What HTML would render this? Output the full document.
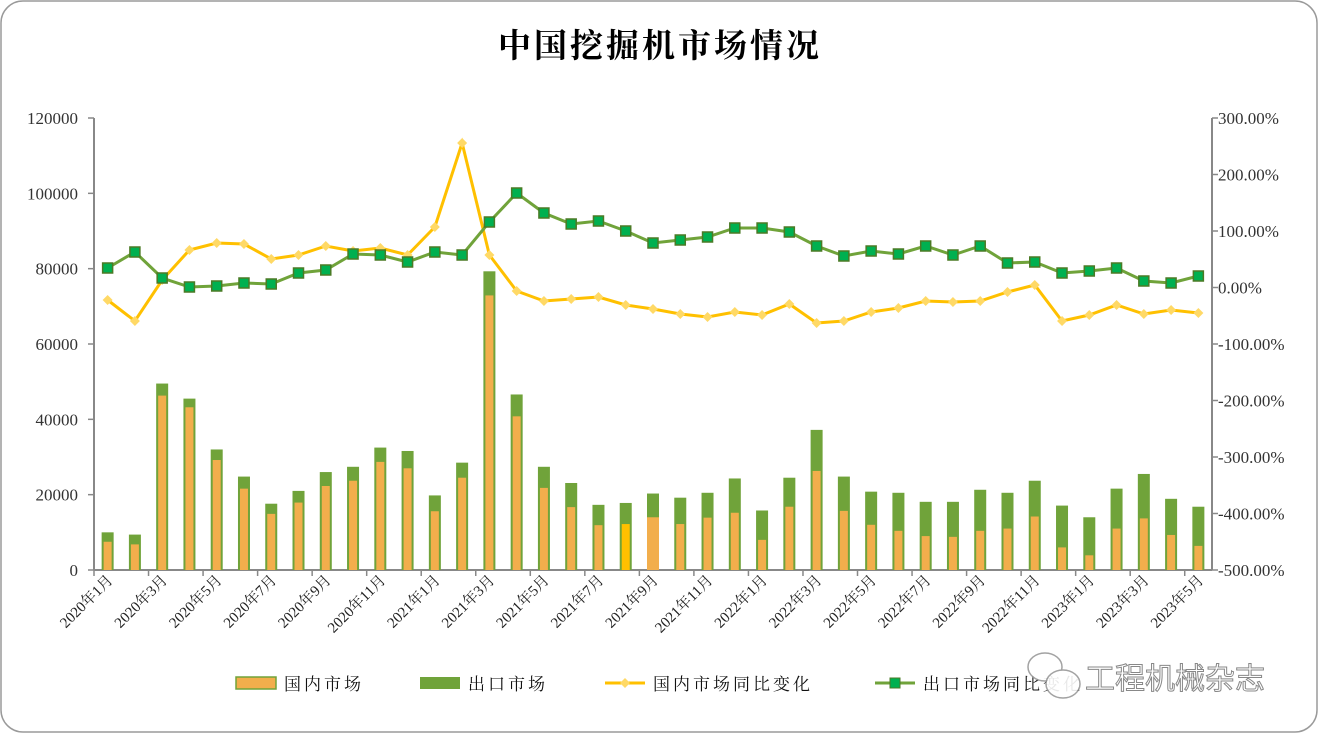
<!DOCTYPE html>
<html><head><meta charset="utf-8"><style>
body{margin:0;background:#fff;}
#c{position:relative;width:1318px;height:733px;overflow:hidden;}
</style></head><body><div id="c"><svg id="s" width="1318" height="733" xmlns="http://www.w3.org/2000/svg"></svg></div>
<script>
const tot=[10000,9400,49500,45500,32000,24800,17600,21000,26000,27400,32500,31600,19800,28500,79300,46600,27400,23100,17300,17800,20300,19200,20500,24300,15800,24500,37200,24800,20800,20500,18100,18100,21300,20500,23700,17100,14000,21600,25500,18900,16800];
const dom=[7500,6800,46300,43200,29200,21600,14900,17900,22300,23700,28700,27000,15600,24500,72900,40800,21800,16700,11900,12200,14000,12200,13900,15200,8000,16800,26300,15700,12000,10400,9000,8800,10400,11000,14200,6000,3900,11000,13700,9300,6400];
const dy=[300,321,280,250,243,244,259,255,246,251,248,255,227,143,255,291,301,299,297,305,309,314,317,312,315,304,323,321,312,308,301,302,301,292,285,321,315,305,314,310,313];
const ey=[268,252,278,287,286,283,284,273,270,254,255,262,252,255,222,193,213,224,221,231,243,240,237,228,228,232,246,256,251,254,246,255,246,263,262,273,271,268,281,283,276];
const L=94,R=1212,T=118,B=570,n=41,w=(R-L)/n;
const Y=v=>B-v/120000*(B-T);
const F='font-family="Liberation Serif,Noto Serif CJK SC,serif"';
let h='';
h+='<rect x="1" y="1" width="1316" height="731" rx="22" fill="#fff" stroke="#9a9a9a" stroke-width="1.5"/>';
h+=`<text x="660" y="57" text-anchor="middle" font-family="Noto Serif CJK SC,serif" font-size="33" font-weight="bold" fill="#000" letter-spacing="3">中国挖掘机市场情况</text>`;
for(let i=0;i<=6;i++){let y=B-i*(B-T)/6;
h+=`<line x1="88" x2="${L}" y1="${y}" y2="${y}" stroke="#888" stroke-width="1.5"/>`;
h+=`<text x="78" y="${y+6}" text-anchor="end" ${F} font-size="17" fill="#333">${i*20000}</text>`;}
for(let i=0;i<=8;i++){let y=T+i*(B-T)/8;h+=`<text x="1218" y="${y+6}" ${F} font-size="17" fill="#333">${(300-i*100).toFixed(2)}%</text><line x1="${R}" x2="${R+6}" y1="${y}" y2="${y}" stroke="#888" stroke-width="1.5"/>`;}
h+=`<line x1="${L}" x2="${L}" y1="${T}" y2="${B}" stroke="#888" stroke-width="2"/><line x1="${R}" x2="${R}" y1="${T}" y2="${B}" stroke="#888" stroke-width="2"/><line x1="${L}" x2="${R}" y1="${B}" y2="${B}" stroke="#888" stroke-width="2"/>`;
for(let i=0;i<n;i++){const cx=L+w*(i+0.5);
if(i%2==0){h+=`<line x1="${L+w*i}" x2="${L+w*i}" y1="${B}" y2="${B+6}" stroke="#888" stroke-width="1.5"/>`;
let yr=2020+Math.floor(i/12),m=i%12+1;
h+=`<text transform="translate(${cx+6},${B+11}) rotate(-45)" text-anchor="end" ${F} font-size="15" fill="#222">${yr}年${m}月</text>`;}
h+=`<rect x="${cx-6}" y="${Y(tot[i])}" width="12" height="${B-Y(tot[i])}" fill="#70A33A"/>`;
let dc=i==19?'#FFC000':'#F2AE4C';
if(i==20)h+=`<rect x="${cx-6}" y="${Y(dom[i])}" width="12" height="${B-Y(dom[i])}" fill="${dc}"/>`;
else h+=`<rect x="${cx-4}" y="${Y(dom[i])}" width="8" height="${B-Y(dom[i])}" fill="${dc}"/>`;}
let p1=dy.map((y,i)=>`${L+w*(i+0.5)},${y}`).join(' '),p2=ey.map((y,i)=>`${L+w*(i+0.5)},${y}`).join(' ');
h+=`<polyline points="${p1}" fill="none" stroke="#FFC000" stroke-width="3"/>`;
dy.forEach((y,i)=>{let x=L+w*(i+0.5);h+=`<path d="M${x-5} ${y}L${x} ${y-5}L${x+5} ${y}L${x} ${y+5}Z" fill="#FFD966"/>`});
h+=`<polyline points="${p2}" fill="none" stroke="#70A33A" stroke-width="3"/>`;
ey.forEach((y,i)=>{let x=L+w*(i+0.5);h+=`<rect x="${x-5}" y="${y-5}" width="10" height="10" fill="#00B050" stroke="#4B7A25" stroke-width="1.5"/>`});
const LF='font-family="Liberation Serif,Noto Serif CJK SC,serif" font-size="17" fill="#111" letter-spacing="3"';
h+=`<rect x="236" y="677" width="40" height="12" fill="#F2AE4C" stroke="#70A33A" stroke-width="1.5"/><text x="284" y="690" ${LF}>国内市场</text>`;
h+=`<rect x="420" y="677" width="40" height="12" fill="#70A33A"/><text x="468" y="690" ${LF}>出口市场</text>`;
h+=`<line x1="605" x2="645" y1="683" y2="683" stroke="#FFC000" stroke-width="3"/><path d="M620 683L625 678L630 683L625 688Z" fill="#FFD966"/><text x="653" y="690" ${LF}>国内市场同比变化</text>`;
h+=`<line x1="875" x2="915" y1="683" y2="683" stroke="#70A33A" stroke-width="3"/><rect x="890" y="678" width="10" height="10" fill="#00B050" stroke="#4B7A25"/><text x="923" y="690" ${LF}>出口市场同比变化</text>`;
h+=`<g opacity="0.9"><ellipse cx="1045" cy="667" rx="17" ry="14" fill="#fff" stroke="#999" stroke-width="1.5"/><ellipse cx="1063" cy="684" rx="17" ry="14" fill="#fff" stroke="#999" stroke-width="1.5"/></g>`;
h+=`<text x="1085" y="689" font-family="Noto Sans CJK SC,sans-serif" font-size="30" fill="#fff" stroke="#888" stroke-width="1">工程机械杂志</text>`;
document.getElementById('s').innerHTML=h;
</script></body></html>
